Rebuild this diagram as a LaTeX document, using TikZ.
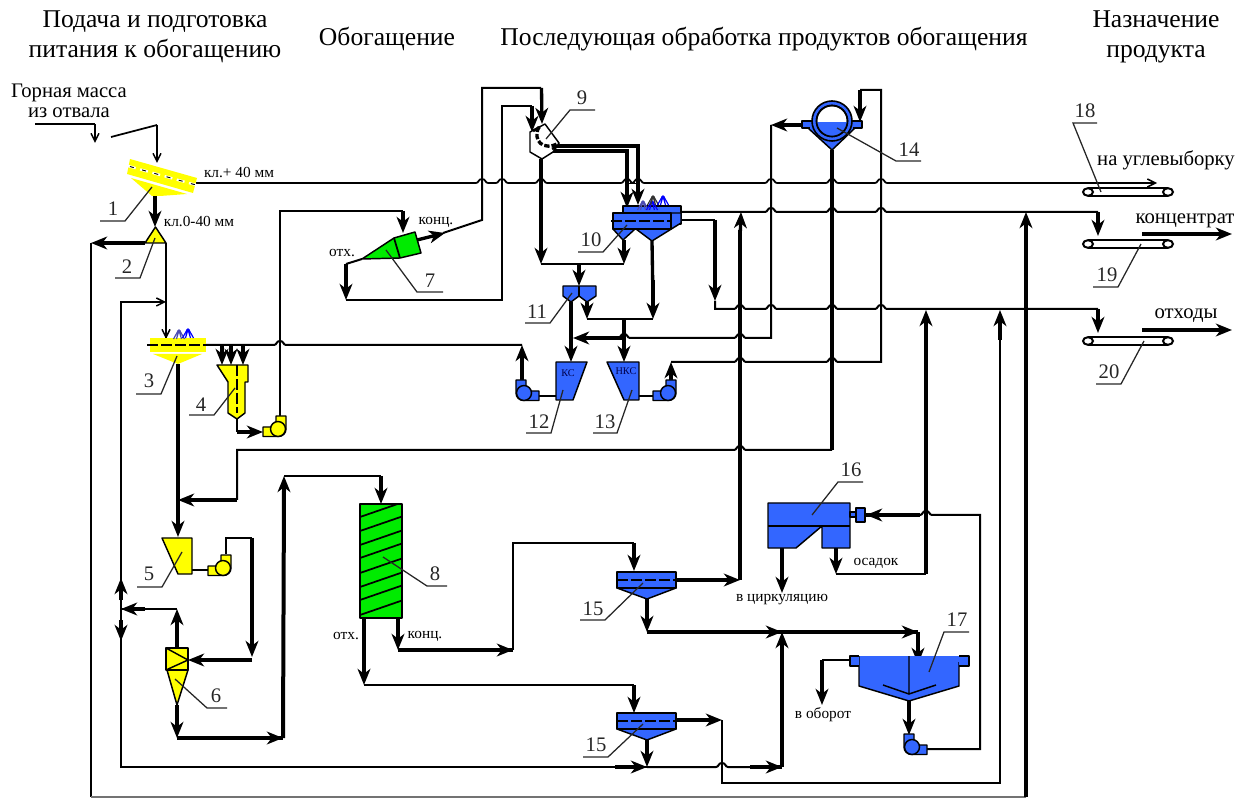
\documentclass[tikz,border=0pt]{standalone}
\usepackage{fontspec}
\setmainfont{Liberation Serif}
\usetikzlibrary{arrows.meta}
\definecolor{bl}{RGB}{51,102,255}
\definecolor{gr}{RGB}{0,235,0}
\definecolor{ye}{RGB}{255,255,0}
\tikzset{
  tn/.style={line width=1.3pt,line join=miter},
  md/.style={line width=1.5pt},
  tk/.style={line width=2.5pt},
  thk/.style={line width=2.5pt,-{Stealth[length=12pt,width=9.5pt,inset=3.5pt]}},
  thm/.style={line width=1.1pt,-{Straight Barb[length=6pt,width=6pt]}},
  lead/.style={line width=.95pt,black!85},
  num/.style={font=\fontsize{15.5}{15.5}\selectfont,inner sep=0pt,text=black!85},
  ttl/.style={font=\fontsize{19.2}{22.5}\selectfont,inner sep=0pt,align=center},
  big/.style={font=\fontsize{15.5}{15}\selectfont,inner sep=0pt,align=center},
  sml/.style={font=\fontsize{11.5}{12}\selectfont,inner sep=0pt},
  tnyf/.style={font=\fontsize{7.7}{8}\selectfont,inner sep=0pt},
  unit/.style={draw=black,line width=1.1pt,line join=round},
  ddash/.style={line width=2pt,dash pattern=on 8pt off 2.5pt}
}
\newcommand\hop[2]{-- (#1-6,#2) .. controls (#1-3,#2) and (#1-4,#2-4) .. (#1,#2-4) .. controls (#1+4,#2-4) and (#1+3,#2) .. (#1+6,#2)}
\newcommand\ldr[6]{\coordinate (t#1) at (#2);\coordinate (k#1) at (#3);\coordinate (e#1) at (#4);\draw[lead] (t#1)--(k#1)--(e#1);\node[num] (n#1) at (#5) {#6};}
\newcommand\pump[4]{\begin{scope}[shift={(#1,#2)},xscale=#3]
 \fill[#4,draw=black,line width=1.1pt,line join=round] (-2,-13)--(8,-13)--(8,0) arc[start angle=0,end angle=90,radius=7.5]--(-15,7.5)--(-15,-2)--(-5,-2)--(-2,-5)--cycle;
 \draw[line width=1.1pt,black,fill=#4] (0,0) circle[radius=7.5];
\end{scope}}
\newcommand\spray[3]{\begin{scope}[shift={(#1,#2)}]
 \draw[#3,line width=.9pt] (-5.5,8)--(-1,0)--(1,0)--(5.5,8) (-2.5,8)--(-.5,1) (2.5,8)--(.5,1);
 \fill[#3] (0,0) circle[radius=1.8];
\end{scope}}
\newcommand\conv[2]{% y, name
 \coordinate (#2a) at (1088,#1);\coordinate (#2b) at (1168,#1);
 \draw[md] (1088,#1-4)--(1168,#1-4) (1088,#1+4)--(1168,#1+4);
 \draw[md,fill=white] (#2a) ellipse[x radius=5,y radius=3.8];
 \draw[md,fill=white] (#2b) ellipse[x radius=5,y radius=3.8];}
\begin{document}
\begin{tikzpicture}[x=.75pt,y=-.75pt]
\useasboundingbox (0,0) rectangle (1243,798);
%% ports
\coordinate (src1) at (35,124); \coordinate (src1t) at (95,143);
\coordinate (src2) at (111,137); \coordinate (u1in) at (157,163);
\coordinate (u1r) at (196,183); \coordinate (u18in) at (1157,183);
\coordinate (u1o) at (155,196); \coordinate (u2top) at (155,227);
\coordinate (u2l) at (145,243); \coordinate (u2r) at (166,243);
\coordinate (wL) at (91,243); \coordinate (wB) at (91,797.4); \coordinate (wR) at (1026,797.4); \coordinate (wT) at (1026,212);
\coordinate (u3in) at (166,339);
\coordinate (u3r) at (206,345); \coordinate (u3o) at (178,364); \coordinate (u5in) at (178,537);
\coordinate (p12t) at (522,345);
\coordinate (u4o) at (237,419); \coordinate (p4l) at (263,432);\coordinate (p4t) at (280,416);
\coordinate (u7in) at (403,233);
\coordinate (u7r) at (417,240); \coordinate (u7l) at (362,259);
\coordinate (u9a) at (532,132); \coordinate (u9b) at (542,124);
\coordinate (u9c) at (556,146); \coordinate (u9d) at (550,151); \coordinate (u9o) at (541,159);
\coordinate (u10a) at (638,205); \coordinate (u10b) at (627,208);
\coordinate (u10r1) at (681,212); \coordinate (u10r2) at (672,220);
\coordinate (u10c1) at (624,240); \coordinate (u10c2) at (652,241);
\coordinate (j1) at (541,264); \coordinate (j2) at (624,264); \coordinate (u11in) at (579,286);
\coordinate (u11l) at (571,302); \coordinate (u11r) at (587,302);
\coordinate (j3) at (653,319); \coordinate (j4) at (587,319); \coordinate (j5) at (624,319);
\coordinate (u12in) at (571,362); \coordinate (u13in) at (624,362);
\coordinate (j6) at (573,338);
\coordinate (p13t) at (671,362);
\coordinate (u14l) at (802,125); \coordinate (u14r) at (860,122); \coordinate (u14b) at (832,150);
\coordinate (j7) at (771,125); \coordinate (j8) at (832,450);
\coordinate (j9) at (178,500);
\coordinate (u6in) at (188,660); \coordinate (u6t) at (177,648); \coordinate (u6b) at (177,705); \coordinate (j10) at (177,738); \coordinate (j11) at (283,738);
\coordinate (j12) at (177,609); \coordinate (j13) at (121,609);
\coordinate (j14) at (284,476); \coordinate (u8in) at (381,504);
\coordinate (u8k) at (398,618); \coordinate (u8o) at (364,618);
\coordinate (j15) at (398,650); \coordinate (j16) at (513,650);
\coordinate (u15ain) at (634,571); \coordinate (u15ar) at (676,580); \coordinate (u15ab) at (647,599);
\coordinate (j17) at (740,580); \coordinate (j18) at (741,212); \coordinate (j19) at (647,632);
\coordinate (j20) at (782,632); \coordinate (j21) at (918,632); \coordinate (u17in) at (918,664);
\coordinate (j22) at (364,685);
\coordinate (u15bin) at (634,713); \coordinate (u15br) at (676,720); \coordinate (u15bb) at (647,740);
\coordinate (j23) at (647,767); \coordinate (j24) at (722,720); \coordinate (j25) at (782,767);
\coordinate (u16in) at (866,515); \coordinate (u16a) at (782,548); \coordinate (u16b) at (836,548);
\coordinate (j26) at (782,593); \coordinate (j27) at (836,574);
\coordinate (j28) at (926,310); \coordinate (j29) at (1000,310);
\coordinate (u17l) at (850,660); \coordinate (j30) at (822,705); \coordinate (u17b) at (909,701); \coordinate (p17t) at (909,735);
\coordinate (p17r) at (925,749);
\coordinate (u19in) at (1098,236); \coordinate (u20in) at (1098,333);
\coordinate (o19a) at (1142,234); \coordinate (o19b) at (1232,234);
\coordinate (o20a) at (1142,330); \coordinate (o20b) at (1232,330);
%% connectors
\draw[tn] (src1) -- (95,124); \draw[thm] (95,124) -- (src1t);
\draw[tn] (src2) -- (157,125); \draw[thm] (157,125) -- (u1in);
\draw[tn] (u1r) \foreach \h in {482,502,541,627,638,771,832,881}{\hop{\h}{183}} -- (1150,183);
\draw[thm] (1100,183) -- (u18in);
\draw[thk] (u1o) -- (u2top);
\draw[thk] (u2l) -- (wL);
\draw[md] (wL) -- (wB);
\draw[md,black!55] (wB) -- (wR);
\draw[line width=3.2pt] (wR) -- (1026,230);
\draw[thk] (1026,240) -- (wT);
\draw[md] (u2r) -- (166,339);
\draw[thm] (166,330) -- (u3in);
\draw[md] (121,768) -- (121,302) -- (160,302);
\draw[thm] (150,302) -- (166,302);
%% 3 -> 4 ... pump 12
\draw[md] (u3r) \hop{280}{345} -- (p12t);
\draw[thk] (222,345) -- (222,365);
\draw[thk] (231,345) -- (231,365);
\draw[thk] (243,345) -- (243,365);
\draw[thk] (522,380) -- (p12t);
\draw[tk] (u3o) -- (178,525);
\draw[thk] (178,515) -- (u5in);
\draw[md] (u4o) -- (237,432);
\draw[thk] (237,432) -- (p4l);
\draw[md] (p4t) -- (280,211) -- (403,211);
\draw[thk] (403,211) -- (u7in);
%% 7
\draw[thk] (417,240) -- (445,233);
\draw[md] (443,233) -- (482,220) -- (482,88) -- (541,88);
\draw[thk] (541.5,88) -- (u9b);
\draw[md] (u7l) -- (346,264);
\draw[thk] (346,264) -- (346,300);
\draw[md] (346,300) -- (502,300) -- (502,106) -- (532,106);
\draw[thk] (532,106) -- (u9a);
%% 9 outlets
\draw[tk] (u9c) -- (638,146) -- (638,190);
\draw[thk] (638,175) -- (u10a);
\draw[tk] (u9d) -- (627,151) -- (627,190);
\draw[thk] (627,180) -- (u10b);
\draw[thk] (u9o) -- (j1);
\draw[md] (j1) -- (j2);
\draw[thk] (u10c1) -- (j2);
\draw[thk] (579,264) -- (u11in);
%% 10 outlets
\draw[md] (u10r1) \foreach \h in {771,832,881}{\hop{\h}{212}} -- (1098,212);
\draw[thk] (1098,212) -- (u19in);
\draw[md] (u10r2) -- (715,220);
\draw[thk] (715,220) -- (715,301);
\draw[md] (715,301) -- (715,309) \foreach \h in {740,771,832,881}{\hop{\h}{309}} -- (1098,309);
\draw[thk] (1098,309) -- (u20in);
\draw[tk] (u10c2) -- (653,300);
\draw[thk] (653,280) -- (j3);
\draw[md] (j3) -- (j4);
\draw[thk] (587,302) -- (j4);
\draw[tk] (624,319) -- (624,345);
\draw[thk] (624,335) -- (u13in);
\draw[thk] (u11l) -- (u12in);
\draw[thk] (624,338) -- (j6);
\draw[md] (618,338) \hop{624}{338} \hop{740}{338} -- (771,338) -- (771,125);
\draw[thk] (u14l) -- (j7);
\draw[md] (p13t) \hop{740}{362} \hop{832}{362} -- (881,362) -- (881,90) -- (860,90);
\draw[thk] (860,90) -- (u14r);
\draw[thk] (671,380) -- (p13t);
%% 14 down
\draw[tk] (u14b) -- (j8);
\draw[md] (237,500) -- (237,450) \hop{740}{450} -- (j8);
\draw[tk] (237,500) -- (200,500);
\draw[thk] (237,500) -- (j9);
%% 5,6
\draw[md] (226,554) -- (226,538) -- (252,538);
\draw[tk] (252,538) -- (252,640);
\draw[thk] (252,630) -- (252,657);
\draw[thk] (252,660) -- (u6in);
\draw[thk] (u6t) -- (j12);
\draw[md] (j12) -- (j13);
\draw[thk] (145,609) -- (j13);
\draw[thk] (121,600) -- (121,578);
\draw[thk] (121,620) -- (121,641);
\draw[thk] (u6b) -- (j10);
\draw[tk] (j10) -- (j11);
\draw[thk] (245,738) -- (j11);
\draw[line width=3pt] (j11) -- (284,490);
\draw[thk] (284,500) -- (j14);
\draw[md] (j14) -- (381,476);
\draw[thk] (381,476) -- (u8in);
%% 8 outlets
\draw[thk] (u8k) -- (j15);
\draw[tk] (j15) -- (j16);
\draw[thk] (490,650) -- (j16);
\draw[md] (j16) -- (513,543) -- (634,543);
\draw[thk] (634,543) -- (u15ain);
\draw[thk] (u8o) -- (j22);
\draw[md] (j22) -- (634,685);
\draw[thk] (634,685) -- (u15bin);
%% 15a outlets
\draw[tk] (u15ar) -- (720,580);
\draw[thk] (715,580) -- (j17);
\draw[line width=3pt] (j17) -- (740,230);
\draw[thk] (740,240) -- (j18);
\draw[thk] (u15ab) -- (j19);
\draw[tk] (j19) -- (j21);
\draw[thk] (750,632) -- (j20);
\draw[thk] (890,632) -- (j21);
\draw[thk] (j21) -- (u17in);
%% 15b
\draw[md] (121,767) -- (j23);
\draw[thk] (615,767) -- (j23);
\draw[thk] (u15bb) -- (j23);
\draw[thk] (u15br) -- (j24);
\draw[md] (j24) -- (722,783) -- (1000,783) -- (1000,330);
\draw[thk] (1000,340) -- (j29);
\draw[md] (j23) \hop{722}{767} -- (750,767);
\draw[tk] (750,767) -- (j25);
\draw[thk] (755,767) -- (j25);
\draw[tk] (j25) -- (782,650);
\draw[thk] (782,660) -- (j20);
%% 16
\draw[thk] (u16a) -- (j26);
\draw[thk] (u16b) -- (j27);
\draw[md] (j27) -- (926,574);
\draw[tk] (926,574) -- (926,330);
\draw[thk] (926,340) -- (j28);
\draw[tk] (920,515) -- (u16in);
\draw[thk] (890,515) -- (u16in);
\draw[md] (914,515) \hop{926}{515} -- (980,515) -- (980,749) -- (p17r);
%% 17
\draw[md] (u17l) -- (822,660);
\draw[thk] (822,660) -- (j30);
\draw[thk] (u17b) -- (p17t);
%% out
\draw[thk] (o19a) -- (o19b);
\draw[thk] (o20a) -- (o20b);
%% pump links
\draw[line width=1.1pt] (532,396)--(556,396) (192,570)--(208,570) (639,396)--(654,396);
%% ---- UNITS ----
% 1
\fill[ye] (130,159)--(197,178)--(193,193)--(127,174)--cycle;
\draw[white,line width=1.8pt,dash pattern=on 6pt off 3.5pt] (128,166)--(196,185);
\draw[black,line width=.7pt,dash pattern=on 3pt off 6.5pt,dash phase=-1.5pt] (128,166)--(196,185);
\fill[ye] (131,178)--(187,194)--(160,196)--(152,196)--cycle;
% 2
\draw[unit,fill=ye] (155.5,227)--(166,243)--(145,243)--cycle;
% 3
\fill[ye] (150,338) rectangle (206,352);
\draw[ddash] (147,345)--(206,345);
\fill[ye] (153,354)--(202,354)--(178,364)--cycle;
\spray{179}{331}{blue!40!gray}\spray{188}{330}{blue}
% 4
\draw[unit,fill=ye] (217,365)--(248,365)--(248,382)--(245,382)--(245,413)--(237,419)--(228,413)--(228,382)--cycle;
\draw[ddash] (237,365)--(237,413);
\pump{278}{429}{1}{ye}
% 5
\draw[unit,fill=ye] (162,538)--(192,538)--(192,574)--(178,574)--cycle;
\pump{223}{568}{1}{ye}
% 6
\draw[unit,fill=ye] (167,670)--(177,705)--(188,670)--cycle;
\draw[unit,fill=ye] (166,648) rectangle (188,670);
\draw[line width=1.1pt] (166,648)--(188,660)--(166,670);
% 7
\draw[unit,fill=gr] (362,259)--(394,238)--(415,232)--(421,253)--(400,258)--cycle;
\draw[line width=1.3pt] (394,238)--(400,258);
% 8
\draw[unit,fill=gr] (360,504) rectangle (402,618);
\begin{scope}
\clip (360,504) rectangle (402,618);
\foreach \y in {517,531,545,558,573,587,600,615}{\draw[line width=1.3pt] (360,\y)--(402,\y-14.5);}
\end{scope}
% 9
\draw[unit,fill=white] (530,132)--(545,124)--(559,143)--(553,152)--(542,159)--(530,152)--cycle;
\draw[line width=2.5pt,dash pattern=on 4pt off 1.5pt] (539,127) .. controls (532,140) and (543,152) .. (559,143);
\draw[line width=2pt] (533,131)--(540,127) (552,149)--(558,146);
% 10
\draw[unit,fill=bl] (623,206) rectangle (681,224);
\draw[unit,fill=bl] (636,229)--(652,241)--(681,223)--(681,213)--(636,213)--cycle;
\draw[unit,fill=bl] (613,229)--(623,240)--(634,230)--(634,229)--cycle;
\draw[unit,fill=bl] (613,213) rectangle (671,229);
\draw[ddash] (611,221)--(672,221);
\spray{643}{202}{blue!40!gray}\spray{652}{202}{blue}\spray{653}{197}{black!60!gray}\spray{663}{197}{blue}
% 11
\draw[unit,fill=bl] (563,286)--(596,286)--(596,296)--(587,302)--(579,296)--(571,302)--(563,296)--cycle;
\draw[line width=1pt] (579,286)--(579,296);
% 12, 13
\draw[unit,fill=bl] (556,362)--(587,362)--(573,400)--(556,400)--cycle;
\node[tnyf,text=black!70!blue] (ks) at (568,373) {КС};
\draw[unit,fill=bl] (607,362)--(639,362)--(639,400)--(624,400)--cycle;
\node[tnyf,text=black!70!blue] (nks) at (626,371) {НКС};
\pump{524}{393}{-1}{bl}
\pump{668}{393}{1}{bl}
% 14
\draw[unit,fill=bl] (802,121) rectangle (862,128);
\draw[unit,fill=bl] (808,128)--(832,150)--(855,128)--cycle;
\fill[bl] (810,123) rectangle (853,129.5);
\draw[line width=1.2pt,fill=bl] (832,121) circle[radius=20];
\draw[line width=1.2pt,fill=white] (832,121) circle[radius=15.5];
\begin{scope}
\clip (832,121) circle[radius=15.5];
\fill[bl] (810,122) rectangle (855,140);
\end{scope}
\draw[line width=1.2pt] (832,121) circle[radius=15.5];
% 15
\foreach \t in {572,713}{
 \draw[unit,fill=bl] (617,\t+16)--(647,\t+27)--(676,\t+16)--cycle;
 \draw[unit,fill=bl] (617,\t) rectangle (676,\t+16);
 \draw[ddash] (617,\t+8)--(676,\t+8);}
% 16
\draw[unit,fill=bl] (768,503)--(850,503)--(850,548)--(822,548)--(822,526)--(796,548)--(768,548)--cycle;
\draw[line width=1.3pt] (768,526)--(850,526);
\draw[unit,fill=bl] (850,512) rectangle (856,517);
\draw[unit,fill=bl] (856,508) rectangle (865,522);
% 17
\draw[unit,fill=bl] (859,656)--(859,686)--(909,701)--(959,686)--(959,656);
\fill[bl] (859.5,656) rectangle (958.5,662);
\draw[unit,fill=bl] (859,656)--(850,656)--(850,666)--(859,666);
\draw[unit,fill=bl] (959,656)--(969,656)--(969,666)--(959,666);
\draw[line width=1.1pt] (909,656)--(909,694) (883,685)--(909,694)--(936,685);
\pump{912}{747}{-1}{bl}
% conveyors
\conv{192}{c18}\conv{244}{c19}\conv{341}{c20}
%% leaders & numbers
\ldr{1}{152,187}{125,221}{100,221}{113,209}{1}
\ldr{2}{155,238}{140,278}{115,278}{127,267}{2}
\ldr{3}{177,356}{161,394}{136,394}{149,381}{3}
\ldr{4}{235,388}{214,415}{189,415}{201,405}{4}
\ldr{5}{182,552}{162,587}{137,587}{149,574}{5}
\ldr{6}{175,679}{207,708}{227,708}{216,696}{6}
\ldr{7}{386,250}{417,292}{443,292}{430,281}{7}
\ldr{8}{383,557}{427,586}{447,586}{435,574}{8}
\ldr{9}{546,139}{570,110}{595,110}{582,98}{9}
\ldr{10}{627,225}{603,252}{578,252}{591,240}{10}
\ldr{11}{572,293}{550,323}{525,323}{537,312}{11}
\ldr{12}{563,390}{551,433}{526,433}{539,422}{12}
\ldr{13}{632,390}{617,433}{593,433}{605,422}{13}
\ldr{14}{837,128}{896,161}{921,161}{909,150}{14}
\ldr{15a}{643,583}{605,620}{580,620}{593,609}{15}
\ldr{15b}{643,724}{608,757}{583,757}{596,745}{15}
\ldr{16}{812,515}{838,482}{863,482}{851,470}{16}
\ldr{17}{929,672}{944,632}{969,632}{957,620}{17}
\ldr{18}{1101,192}{1073,123}{1097,123}{1085,111}{18}
\ldr{19}{1141,244}{1118,287}{1093,287}{1107,275}{19}
\ldr{20}{1144,341}{1121,384}{1096,384}{1109,372}{20}
%% texts
\node[ttl] (t1) at (155,37) {Подача и подготовка\\питания к обогащению};
\node[ttl] (t2) at (387,39) {Обогащение};
\node[ttl] (t3) at (764,39) {Последующая обработка продуктов обогащения};
\node[ttl] (t4) at (1156,37) {Назначение\\продукта};
\node[big] (src) at (69,101) {Горная масса\\из отвала};
\node[sml] (a1) at (239,173) {кл.+ 40 мм};
\node[sml] (a2) at (199,222) {кл.0-40 мм};
\node[sml] (a3) at (436,222) {конц.};
\node[sml] (a4) at (342,253) {отх.};
\node[sml] (a5) at (425,636) {конц.};
\node[sml] (a6) at (346,636) {отх.};
\node[sml] (a7) at (876,563) {осадок};
\node[sml] (a8) at (782,600) {в циркуляцию};
\node[sml] (a9) at (823,715) {в оборот};
\node[big] (o1) at (1166,160) {на углевыборку};
\node[big] (o2) at (1185,221) {концентрат};
\node[big] (o3) at (1186,316) {отходы};
\end{tikzpicture}
\end{document}
